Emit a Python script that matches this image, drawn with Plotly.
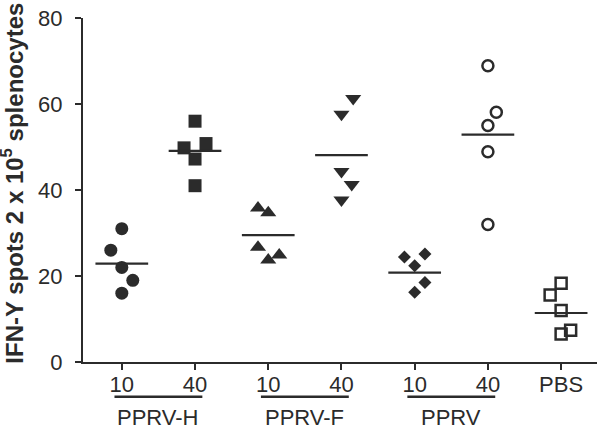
import plotly.graph_objects as go

# ----- data -----
TICK_LABELS = ["10", "40", "10", "40", "10", "40", "PBS"]
GROUPS = ["PPRV-H", "PPRV-F", "PPRV"]

pprv_h_10 = [31.0, 26.0, 22.0, 19.0, 16.0]
pprv_h_40 = [56.0, 50.8, 49.8, 47.2, 41.0]
pprv_f_10 = [35.8, 34.7, 26.7, 24.9, 23.7]
pprv_f_40 = [61.3, 57.6, 44.3, 41.3, 37.7]
pprv_10 = [24.4, 25.1, 22.4, 18.5, 16.2]
pprv_40 = [68.9, 58.1, 55.0, 48.9, 32.0]
pbs = [18.3, 15.6, 12.0, 7.4, 6.5]

# horizontal scatter of the points (category units)
jitter = [
    [0, -0.15, 0, 0.15, 0],
    [0, 0.15, -0.15, 0, 0],
    [-0.14, 0, -0.14, 0.15, 0],
    [0.16, 0, 0, 0.14, 0],
    [-0.14, 0.14, 0, 0.14, 0],
    [0, 0.115, 0, 0, 0],
    [0, -0.15, 0, 0.13, 0],
]

means = [22.9, 49.1, 29.5, 48.1, 20.8, 52.9, 11.4]

series = [pprv_h_10, pprv_h_40, pprv_f_10, pprv_f_40, pprv_10, pprv_40, pbs]

INK = "#2b2b2b"
FONT = "Liberation Sans, Arial, sans-serif"

styles = [
    dict(symbol="circle", size=13, color=INK),
    dict(symbol="square", size=13, color=INK),
    dict(symbol="triangle-up", size=14, color=INK),
    dict(symbol="triangle-down", size=14, color=INK),
    dict(symbol="diamond", size=10, color=INK),
    dict(symbol="circle-open", size=11, color=INK, line=dict(width=2.5, color=INK)),
    dict(symbol="square-open", size=11, color=INK, line=dict(width=2.5, color=INK)),
]

fig = go.Figure()

for i, vals in enumerate(series):
    fig.add_trace(go.Scatter(
        x=[i + j for j in jitter[i]],
        y=vals,
        mode="markers",
        marker=styles[i],
        showlegend=False,
    ))
    # mean bar
    fig.add_trace(go.Scatter(
        x=[i - 0.36, i + 0.36],
        y=[means[i], means[i]],
        mode="lines",
        line=dict(color=INK, width=2.2),
        showlegend=False,
    ))

# group underlines + labels below the tick labels
for g, name in enumerate(GROUPS):
    left = 2 * g
    fig.add_shape(type="line", xref="x", yref="paper",
                  x0=left - 0.1, x1=left + 1.1, y0=-0.101, y1=-0.101,
                  line=dict(color=INK, width=2.5))
    fig.add_annotation(x=left + 0.5, y=-0.16, xref="x", yref="paper",
                       text=name, showarrow=False, yanchor="middle",
                       font=dict(size=22, color=INK, family=FONT))

fig.add_annotation(
    x=-0.137, y=0.52, xref="paper", yref="paper",
    text="<b>IFN-Y spots 2 x 10<sup>5</sup> splenocytes</b>",
    textangle=-90, showarrow=False, xanchor="center", yanchor="middle",
    font=dict(size=24, color=INK, family=FONT),
)

fig.update_layout(
    width=603, height=427,
    margin=dict(l=83, r=6, t=15, b=65),
    plot_bgcolor="white", paper_bgcolor="white",
    font=dict(family=FONT, size=22, color=INK),
)
fig.update_xaxes(
    range=[-0.53, 6.49],
    tickmode="array", tickvals=list(range(7)), ticktext=TICK_LABELS,
    showgrid=False, zeroline=False,
    showline=True, linecolor=INK, linewidth=2.2,
    ticks="outside", ticklen=6, tickwidth=2, tickcolor=INK,
    ticklabelstandoff=-5,
)
fig.update_yaxes(
    range=[0, 80], tickvals=[0, 20, 40, 60, 80],
    showgrid=False, zeroline=False,
    showline=True, linecolor=INK, linewidth=2.2,
    ticks="outside", ticklen=6, tickwidth=2, tickcolor=INK,
    ticklabelstandoff=8,
)

# drop the browser's default body margin so the figure sits at 0,0
fig.write_html(
    "out.html",
    config={"displayModeBar": False},
    post_script="document.body.style.margin='0';",
)
